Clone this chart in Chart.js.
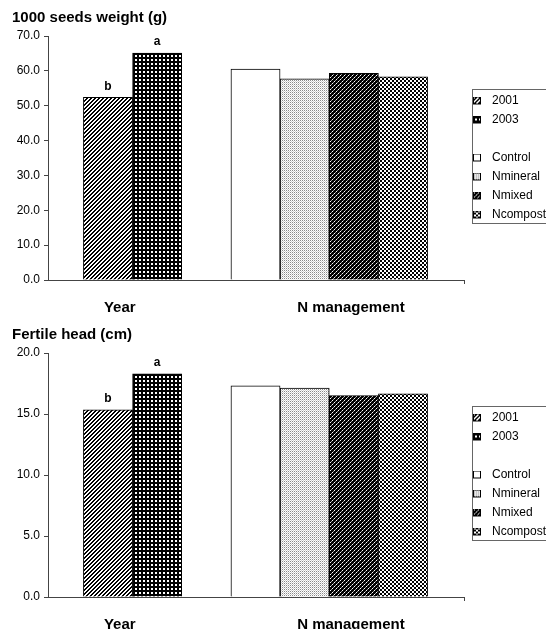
<!DOCTYPE html>
<html><head><meta charset="utf-8">
<script src="https://cdn.jsdelivr.net/npm/chart.js@4.4.0/dist/chart.umd.min.js"></script>
<style>
html,body{margin:0;padding:0;background:#fff;overflow:hidden;width:546px;height:629px}
canvas{display:block}
</style></head><body>
<canvas id="c1" width="546" height="317"></canvas>
<canvas id="c2" width="546" height="317"></canvas>
<script>
// ---- data ----
const categories = ['2001', '2003', 'Control', 'Nmineral', 'Nmixed', 'Ncompost'];
const categoryGroup = [0, 0, 1, 1, 1, 1];
const groupLabels = ['Year', 'N management'];
const seedWeight = [52.4, 65.1, 60.5, 57.7, 59.3, 58.3];
const seedLetters = ['b', 'a', '', '', '', ''];
const headLength = [15.35, 18.3, 17.3, 17.12, 16.5, 16.65];
const headLetters = ['b', 'a', '', '', '', ''];
const seedAxis = { min: 0, max: 70, step: 10 };
const headAxis = { min: 0, max: 20, step: 5 };

// ---- patterns ----
const FONT = '"Liberation Sans", Arial, sans-serif';
Chart.defaults.font.family = FONT;
Chart.defaults.color = '#000';

function tile(size, fn) {
  const c = document.createElement('canvas');
  c.width = size; c.height = size;
  const x = c.getContext('2d');
  x.fillStyle = '#fff'; x.fillRect(0, 0, size, size);
  for (let i = 0; i < size; i++) for (let j = 0; j < size; j++) {
    const col = fn(i, j);
    if (col) { x.fillStyle = col; x.fillRect(i, j, 1, 1); }
  }
  return c;
}
const tiles = [
  tile(4, (i, j) => ((i + j) % 4 < 2 ? '#000' : null)),                       // 2001 hatch
  tile(4, (i, j) => ((i === 0 || i === 3) && (j === 0 || j === 3) ? null : '#000')), // 2003
  tile(4, () => null),                                                          // Control
  tile(2, (i, j) => (i === 0 && j === 0 ? '#8a8a8a' : (i === 1 && j === 1 ? '#d0d0d0' : null))), // Nmineral
  tile(4, (i, j) => ((i + j) % 4 === 3 ? (i % 2 === 0 ? '#fff' : '#999') : '#000')), // Nmixed
  tile(4, (i, j) => ((Math.floor(i / 2) + Math.floor(j / 2)) % 2 === 0 ? '#000' : null)) // Ncompost
];
const pctx = document.createElement('canvas').getContext('2d');
const patterns = tiles.map(t => pctx.createPattern(t, 'repeat'));

function marker(t) {
  const c = document.createElement('canvas');
  c.width = 14; c.height = 9;
  const x = c.getContext('2d');
  x.fillStyle = x.createPattern(t, 'repeat');
  x.fillRect(1, 0, 8, 8);
  x.strokeStyle = '#000'; x.lineWidth = 1;
  x.strokeRect(1.5, 0.5, 7, 7);
  return c;
}
const markers = tiles.map(marker);
const blankMarker = document.createElement('canvas');
blankMarker.width = 14; blankMarker.height = 9;

// slot position: one empty slot between groups
const slots = categories.map((c, i) => i + categoryGroup[i]);
const groupCenters = groupLabels.map((g, k) => {
  const s = slots.filter((v, i) => categoryGroup[i] === k);
  return (Math.min(...s) + Math.max(...s)) / 2;
});
// label placement offsets (layout), in slot units
const labelShift = [-0.26, 0.44];

const decor = {
  id: 'decor',
  afterDatasetsDraw(chart, args, opts) {
    const ctx = chart.ctx;
    ctx.save();
    ctx.font = 'bold 12px ' + FONT;
    ctx.textAlign = 'center'; ctx.textBaseline = 'middle'; ctx.fillStyle = '#000';
    chart.data.datasets.forEach((ds, i) => {
      const el = chart.getDatasetMeta(i).data[0];
      const t = opts.letters[i];
      if (t && el) ctx.fillText(t, el.x, el.y - 11);
    });
    ctx.restore();
  },
  afterDraw(chart) {
    const ctx = chart.ctx;
    const lg = chart.legend;
    const hb = lg.legendHitBoxes;
    const top = Math.round(hb[0].top) - 6;
    const last = hb[hb.length - 1];
    const bottom = Math.round(last.top + last.height) + 2;
    ctx.save();
    ctx.strokeStyle = '#666'; ctx.lineWidth = 1;
    ctx.strokeRect(Math.round(lg.left) + 7.5, top + 0.5, 120, bottom - top);
    const a = chart.chartArea;
    ctx.strokeStyle = '#444';
    ctx.beginPath();
    ctx.moveTo(Math.round(a.right) - 0.5, a.bottom);
    ctx.lineTo(Math.round(a.right) - 0.5, a.bottom + 4);
    ctx.stroke();
    ctx.restore();
  }
};

function makeChart(id, title, values, letters, axis) {
  return new Chart(document.getElementById(id), {
    type: 'bar',
    data: {
      datasets: categories.map((c, i) => ({
        label: c,
        data: [{ x: slots[i], y: values[i] }],
        backgroundColor: patterns[i],
        borderColor: '#000',
        borderWidth: 1,
        borderSkipped: 'bottom',
        barPercentage: 1,
        categoryPercentage: 1,
        grouped: false
      }))
    },
    options: {
      responsive: false,
      animation: false,
      layout: { padding: { left: 12, right: -10, top: 0, bottom: 0 } },
      scales: {
        x: {
          type: 'linear',
          offset: false,
          min: -1.22, max: 7.26,
          afterBuildTicks: s => { s.ticks = groupCenters.map((v, k) => ({ value: v + labelShift[k] })); },
          afterFit: s => { s.height = 37; },
          grid: { display: false, offset: false },
          border: { display: true, color: '#444', width: 1 },
          ticks: {
            autoSkip: false, maxRotation: 0, minRotation: 0, padding: 11,
            font: { size: 15, weight: 'bold' }, color: '#000',
            callback: (v, i) => groupLabels[i]
          }
        },
        y: {
          min: axis.min, max: axis.max,
          afterFit: s => { s.width = 36; },
          grid: { display: true, drawOnChartArea: false, drawTicks: true, tickLength: 4, color: '#444' },
          border: { display: true, color: '#444', width: 1 },
          ticks: { stepSize: axis.step, padding: 4, font: { size: 12 }, color: '#000',
                   callback: v => Number(v).toFixed(1) }
        }
      },
      plugins: {
        title: {
          display: true, text: title, align: 'start', color: '#000',
          font: { size: 15, weight: 'bold' }, padding: { top: 9, bottom: 9 }
        },
        legend: {
          position: 'right', align: 'center', fullSize: false,
          labels: {
            usePointStyle: true, pointStyleWidth: 14, padding: 7,
            font: { size: 12 }, color: '#000',
            generateLabels: ch => {
              const items = ch.data.datasets.map((ds, i) => ({
                text: ds.label, pointStyle: markers[i], datasetIndex: i, hidden: false,
                fillStyle: 'transparent', strokeStyle: 'transparent', lineWidth: 0, fontColor: '#000'
              }));
              items.splice(2, 0, { text: '', pointStyle: blankMarker, hidden: false,
                fillStyle: 'transparent', strokeStyle: 'transparent', lineWidth: 0 });
              return items;
            }
          }
        },
        tooltip: { enabled: false },
        decor: { letters }
      }
    },
    plugins: [decor]
  });
}

makeChart('c1', '1000 seeds weight (g)', seedWeight, seedLetters, seedAxis);
makeChart('c2', 'Fertile head (cm)', headLength, headLetters, headAxis);
</script>
</body></html>
